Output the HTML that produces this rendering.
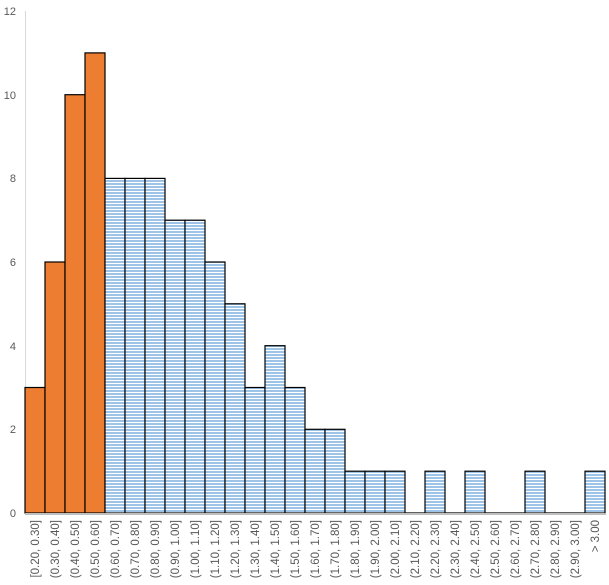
<!DOCTYPE html><html><head><style>body{margin:0;background:#fff}</style></head><body>
<svg width="609" height="580" xmlns="http://www.w3.org/2000/svg" font-family="Liberation Sans, sans-serif">
<defs><pattern id="p" width="4" height="3" patternUnits="userSpaceOnUse"><rect width="4" height="3" fill="#fff"/><rect width="4" height="2" fill="#9dc3e6"/></pattern></defs>
<line x1="25.5" y1="11" x2="25.5" y2="513" stroke="#d9d9d9"/>
<g font-size="11" fill="#595959" text-anchor="end">
<text x="16" y="517">0</text><text x="16" y="433">2</text><text x="16" y="350">4</text><text x="16" y="266">6</text><text x="16" y="182">8</text><text x="16" y="99">10</text><text x="16" y="15">12</text>
</g>
<g stroke="#000" stroke-width="1.2">
<g fill="#ed7d31">
<rect x="25" y="387.5" width="20" height="125.5"/>
<rect x="45" y="262" width="20" height="251"/>
<rect x="65" y="94.7" width="20" height="418.3"/>
<rect x="85" y="52.9" width="20" height="460.1"/>
</g>
<g fill="url(#p)">
<rect x="105" y="178.4" width="20" height="334.6"/>
<rect x="125" y="178.4" width="20" height="334.6"/>
<rect x="145" y="178.4" width="20" height="334.6"/>
<rect x="165" y="220.2" width="20" height="292.8"/>
<rect x="185" y="220.2" width="20" height="292.8"/>
<rect x="205" y="262" width="20" height="251"/>
<rect x="225" y="303.8" width="20" height="209.2"/>
<rect x="245" y="387.5" width="20" height="125.5"/>
<rect x="265" y="345.7" width="20" height="167.3"/>
<rect x="285" y="387.5" width="20" height="125.5"/>
<rect x="305" y="429.3" width="20" height="83.7"/>
<rect x="325" y="429.3" width="20" height="83.7"/>
<rect x="345" y="471.2" width="20" height="41.8"/>
<rect x="365" y="471.2" width="20" height="41.8"/>
<rect x="385" y="471.2" width="20" height="41.8"/>
<rect x="425" y="471.2" width="20" height="41.8"/>
<rect x="465" y="471.2" width="20" height="41.8"/>
<rect x="525" y="471.2" width="20" height="41.8"/>
<rect x="585" y="471.2" width="20" height="41.8"/>
</g>
<line x1="405" y1="513" x2="425" y2="513"/>
<line x1="445" y1="513" x2="465" y2="513"/>
<line x1="485" y1="513" x2="525" y2="513"/>
<line x1="545" y1="513" x2="585" y2="513"/>
</g>
<line x1="25" y1="514" x2="606" y2="514" stroke="#bfbfbf" stroke-width="2"/>
<g font-size="11.5" fill="#595959" text-anchor="end">
<text transform="translate(39,520) rotate(-90)">[0.20, 0.30]</text>
<text transform="translate(59,520) rotate(-90)">(0.30, 0.40]</text>
<text transform="translate(79,520) rotate(-90)">(0.40, 0.50]</text>
<text transform="translate(99,520) rotate(-90)">(0.50, 0.60]</text>
<text transform="translate(119,520) rotate(-90)">(0.60, 0.70]</text>
<text transform="translate(139,520) rotate(-90)">(0.70, 0.80]</text>
<text transform="translate(159,520) rotate(-90)">(0.80, 0.90]</text>
<text transform="translate(179,520) rotate(-90)">(0.90, 1.00]</text>
<text transform="translate(199,520) rotate(-90)">(1.00, 1.10]</text>
<text transform="translate(219,520) rotate(-90)">(1.10, 1.20]</text>
<text transform="translate(239,520) rotate(-90)">(1.20, 1.30]</text>
<text transform="translate(259,520) rotate(-90)">(1.30, 1.40]</text>
<text transform="translate(279,520) rotate(-90)">(1.40, 1.50]</text>
<text transform="translate(299,520) rotate(-90)">(1.50, 1.60]</text>
<text transform="translate(319,520) rotate(-90)">(1.60, 1.70]</text>
<text transform="translate(339,520) rotate(-90)">(1.70, 1.80]</text>
<text transform="translate(359,520) rotate(-90)">(1.80, 1.90]</text>
<text transform="translate(379,520) rotate(-90)">(1.90, 2.00]</text>
<text transform="translate(399,520) rotate(-90)">(2.00, 2.10]</text>
<text transform="translate(419,520) rotate(-90)">(2.10, 2.20]</text>
<text transform="translate(439,520) rotate(-90)">(2.20, 2.30]</text>
<text transform="translate(459,520) rotate(-90)">(2.30, 2.40]</text>
<text transform="translate(479,520) rotate(-90)">(2.40, 2.50]</text>
<text transform="translate(499,520) rotate(-90)">(2.50, 2.60]</text>
<text transform="translate(519,520) rotate(-90)">(2.60, 2.70]</text>
<text transform="translate(539,520) rotate(-90)">(2.70, 2.80]</text>
<text transform="translate(559,520) rotate(-90)">(2.80, 2.90]</text>
<text transform="translate(579,520) rotate(-90)">(2.90, 3.00]</text>
<text transform="translate(599,520) rotate(-90)">&gt; 3.00</text>
</g>
</svg></body></html>
